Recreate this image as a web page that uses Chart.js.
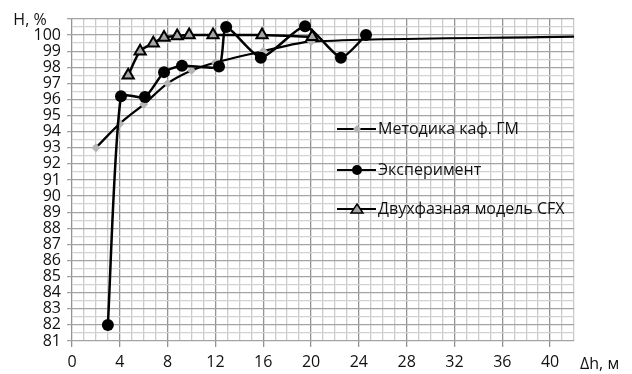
<!DOCTYPE html>
<html>
<head>
<meta charset="utf-8">
<script src="https://cdn.jsdelivr.net/npm/chart.js@4/dist/chart.umd.min.js"></script>
<style>
body { margin: 0; background: #fff; }
canvas { display: block; }
</style>
</head>
<body>
<canvas id="chart" width="632" height="374"></canvas>
<script>
// values
const methodX = [2, 4, 6, 8, 10, 12, 16, 20, 42];
const methodY = [93.0, 94.5, 95.7, 97.0, 97.8, 98.3, 99.0, 99.6, 99.9];

const expX = [3.0, 4.1, 6.1, 7.7, 9.2, 12.3, 12.9, 15.8, 19.5, 22.5, 24.6];
const expY = [82.0, 96.2, 96.15, 97.7, 98.1, 98.05, 100.5, 98.6, 100.55, 98.6, 100.0];

const cfxX = [4.7, 5.7, 6.8, 7.7, 8.8, 9.8, 11.8, 15.9, 20.1];
const cfxY = [97.5, 99.0, 99.5, 99.85, 99.95, 100.0, 100.0, 100.0, 99.9];

const seriesNames = ['Методика каф. ГМ', 'Эксперимент', 'Двухфазная модель CFX'];
const xTickLabels = [0, 4, 8, 12, 16, 20, 24, 28, 32, 36, 40];
const yTickLabels = [81, 82, 83, 84, 85, 86, 87, 88, 89, 90, 91, 92, 93, 94, 95, 96, 97, 98, 99, 100];
const yTitle = 'H, %';
const xTitle = '\u0394h, м';

const FONT = '"Open Sans", sans-serif';
const TEXT = '#111';

function pts(xs, ys) {
    return xs.map((x, i) => ({ x: x, y: ys[i] }));
}

// axis names + legend drawn over the plot
const extras = {
    id: 'extras',
    afterDraw(chart) {
        const c = chart.ctx;
        c.save();
        c.fillStyle = TEXT;
        c.font = '16px ' + FONT;
        c.textBaseline = 'middle';
        c.textAlign = 'center';
        c.fillText(yTitle, 30, 20);
        c.textAlign = 'left';
        c.fillText(xTitle, 580, 364);

        const rows = [129, 170, 209];
        chart.data.datasets.forEach((ds, i) => {
            const y = rows[i];
            c.strokeStyle = '#000';
            c.lineWidth = 2;
            c.beginPath();
            c.moveTo(337, y);
            c.lineTo(376, y);
            c.stroke();
            c.fillStyle = ds.pointBackgroundColor;
            c.strokeStyle = ds.pointBorderColor;
            c.lineWidth = 1.5;
            c.beginPath();
            if (ds.pointStyle === 'circle') {
                c.arc(357, y, 5, 0, Math.PI * 2);
                c.fill();
            } else if (ds.pointStyle === 'triangle') {
                c.moveTo(357, y - 5);
                c.lineTo(363, y + 4);
                c.lineTo(351, y + 4);
                c.closePath();
                c.fill();
                c.stroke();
            } else {
                c.moveTo(357, y - 4);
                c.lineTo(361, y);
                c.lineTo(357, y + 4);
                c.lineTo(353, y);
                c.closePath();
                c.fill();
            }
            c.fillStyle = TEXT;
            c.font = '16px ' + FONT;
            c.fillText(ds.label, 378, y);
        });
        c.restore();
    }
};

const chart = new Chart(document.getElementById('chart').getContext('2d'), {
    type: 'line',
    data: {
        datasets: [
            {
                label: seriesNames[0],
                data: pts(methodX, methodY),
                borderColor: '#000',
                borderWidth: 2.2,
                tension: 0.3,
                pointStyle: 'rectRot',
                pointRadius: methodX.map((x, i) => i === methodX.length - 1 ? 0 : 4.5),
                pointBackgroundColor: '#b4b4b4',
                pointBorderColor: '#b4b4b4',
                pointBorderWidth: 0,
                order: 3
            },
            {
                label: seriesNames[1],
                data: pts(expX, expY),
                borderColor: '#000',
                borderWidth: 2.5,
                tension: 0.2,
                pointStyle: 'circle',
                pointRadius: 6,
                pointBackgroundColor: '#000',
                pointBorderColor: '#000',
                pointBorderWidth: 0,
                order: 1
            },
            {
                label: seriesNames[2],
                data: pts(cfxX, cfxY),
                borderColor: '#000',
                borderWidth: 2.5,
                tension: 0.3,
                pointStyle: 'triangle',
                pointRadius: 6.5,
                pointBackgroundColor: '#a6a6a6',
                pointBorderColor: '#000',
                pointBorderWidth: 2,
                order: 2
            }
        ]
    },
    options: {
        responsive: false,
        animation: false,
        layout: { padding: { top: 19, right: 58, left: 0, bottom: 0 } },
        plugins: {
            legend: { display: false },
            tooltip: { enabled: false }
        },
        scales: {
            x: {
                type: 'linear',
                min: 0,
                max: 42,
                afterFit(scale) { scale.height = 33; },
                border: { display: false },
                grid: {
                    color: (ctx) => ctx.tick.value % 4 === 0 ? '#939393' : '#cbcbcb',
                    tickColor: (ctx) => ctx.tick.value % 4 === 0 ? '#939393' : 'rgba(0,0,0,0)',
                    tickLength: 6,
                    lineWidth: 1.3
                },
                ticks: {
                    stepSize: 1,
                    autoSkip: false,
                    maxRotation: 0,
                    maxTicksLimit: 200,
                    padding: 6,
                    color: TEXT,
                    font: { family: FONT, size: 16 },
                    callback: (v) => xTickLabels.includes(v) ? String(v) : ''
                }
            },
            y: {
                min: 81,
                max: 101,
                afterFit(scale) { scale.width = 72; },
                border: { display: false },
                grid: {
                    color: (ctx) => Number.isInteger(ctx.tick.value) ? '#a4a4a4' : '#d2d2d2',
                    tickColor: (ctx) => Number.isInteger(ctx.tick.value) ? '#a4a4a4' : 'rgba(0,0,0,0)',
                    tickLength: 5,
                    lineWidth: 1.3
                },
                ticks: {
                    stepSize: 0.5,
                    autoSkip: false,
                    maxTicksLimit: 200,
                    padding: 6,
                    color: TEXT,
                    font: { family: FONT, size: 16 },
                    callback: (v) => yTickLabels.includes(v) ? String(v) : ''
                }
            }
        }
    },
    plugins: [extras]
});
</script>
</body>
</html>
